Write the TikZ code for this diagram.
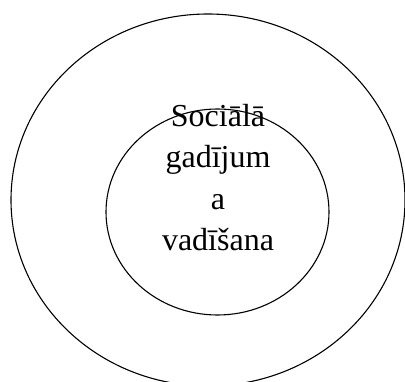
\documentclass[tikz,border=0pt]{standalone}
\usepackage{fontspec}
\setmainfont{Liberation Serif}
\usetikzlibrary{positioning,shapes.geometric}

\begin{document}
\begin{tikzpicture}[x=1pt, y=1pt,
  ring/.style={draw, ellipse, line width=1.1pt, inner sep=0pt},
  label/.style={align=center, inner sep=0pt, font=\fontsize{32}{41.5}\selectfont}]
\useasboundingbox (0,0) rectangle (405,381);
\node[ring, minimum width=394pt, minimum height=372pt] (outer) at (208,181) {};
\node[ring, minimum width=223pt, minimum height=206pt] (inner) at (217.5,169) {};
\node[label, anchor=north] (title) at (218,277) {Sociālā\\gadījum\\a\\vadīšana};
\end{tikzpicture}
\end{document}
